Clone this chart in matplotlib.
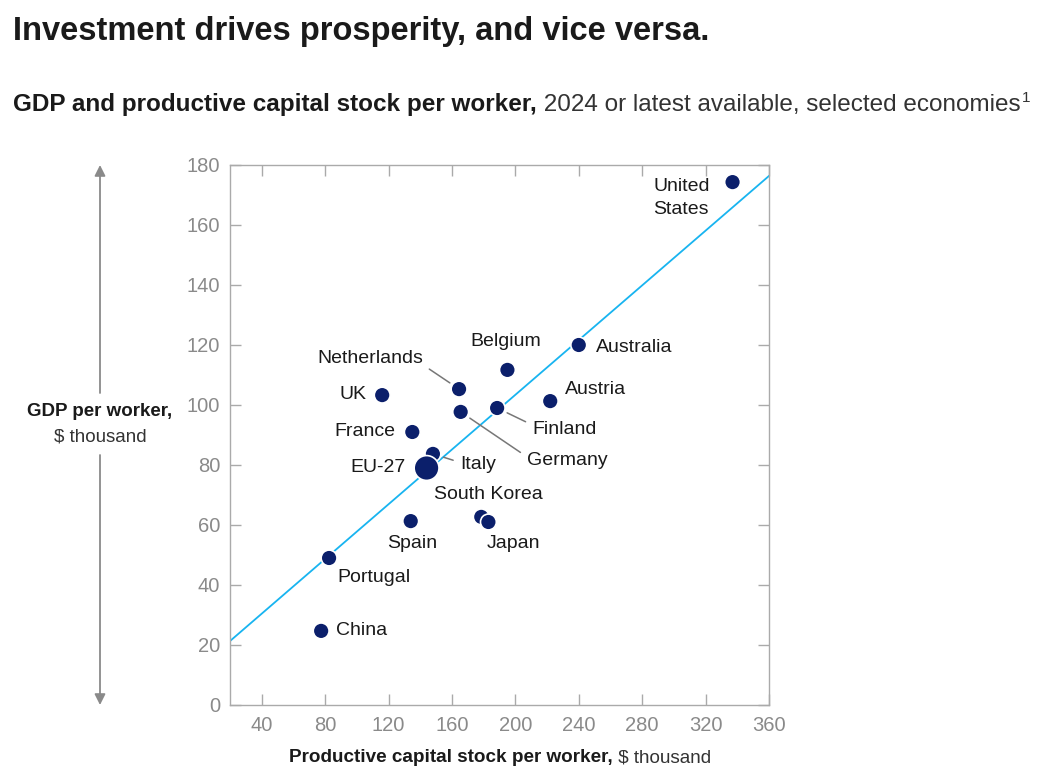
import numpy as np
import matplotlib
matplotlib.use("Agg")
import matplotlib.pyplot as plt

plt.rcParams['font.family'] = ['Liberation Sans', 'DejaVu Sans']

# data, $ thousand per worker
countries = ["United States", "Australia", "Belgium", "Austria", "Netherlands", "UK",
             "Germany", "Finland", "France", "Italy", "EU-27", "South Korea",
             "Japan", "Spain", "Portugal", "China"]
capital = [337, 240, 195, 222, 164.5, 116, 165.5, 188.5, 135, 148, 144, 178.5,
           183, 134, 82.5, 77.5]
gdp = [174.3, 120, 111.7, 101.3, 105.3, 103.3, 97.7, 99, 91, 83.7, 79, 62.7,
       61, 61.3, 49, 24.7]
# trend line
trend_slope = 0.456
trend_intercept = 12.2

x_ticks = [40, 80, 120, 160, 200, 240, 280, 320, 360]
y_ticks = [0, 20, 40, 60, 80, 100, 120, 140, 160, 180]

# label placement: offset in pixels, alignment, leader line relpos or None
label_pos = {
    "United States": ((-23, -16), 'right', None),
    "Australia": ((17, -3), 'left', None),
    "Belgium": ((-2, 28), 'center', None),
    "Austria": ((15, 12), 'left', None),
    "Netherlands": ((-36, 31), 'right', (1.0, 0.1)),
    "UK": ((-16, 1), 'right', None),
    "Germany": ((66, -49), 'left', (0.0, 0.75)),
    "Finland": ((35, -22), 'left', (0.0, 0.8)),
    "France": ((-17, 1), 'right', None),
    "Italy": ((27, -11), 'left', (0.0, 0.65)),
    "EU-27": ((-21, 0), 'right', None),
    "South Korea": ((7, 22), 'center', None),
    "Japan": ((-2, -22), 'left', None),
    "Spain": ((1, -22), 'center', None),
    "Portugal": ((8, -20), 'left', None),
    "China": ((15, 0), 'left', None),
}

dot_color = '#0b1f6b'
line_color = '#18b4f0'
grey = '#8a8a8a'
text_color = '#1a1a1a'

fig = plt.figure(figsize=(10.64, 7.80), dpi=100)
ax = fig.add_axes([230/1064, 1-705/780, (769-230)/1064, (705-165)/780])

xs = np.array([20, 360])
ax.plot(xs, trend_intercept + trend_slope*xs, color=line_color, lw=1.3, zorder=2)

sizes = [320 if c == "EU-27" else 130 for c in countries]
ax.scatter(capital, gdp, s=sizes, color=dot_color, edgecolors='white', linewidths=1.2, zorder=3)

for c, xv, yv in zip(countries, capital, gdp):
    off, ha, rel = label_pos[c]
    txt = "United\nStates" if c == "United States" else c
    kw = {}
    if rel is not None:
        kw['arrowprops'] = dict(arrowstyle='-', color='#777777', lw=1.1,
                                shrinkA=3, shrinkB=8, relpos=rel)
    ax.annotate(txt, (xv, yv), xytext=off, textcoords='offset pixels',
                ha=ha, va='center', fontsize=14, color=text_color,
                multialignment='center', linespacing=1.45, zorder=4, **kw)

ax.set_xlim(20, 360)
ax.set_ylim(0, 180)
ax.set_xticks(x_ticks)
ax.set_yticks(y_ticks)
ax.tick_params(axis='both', direction='in', length=8, width=1, color='#aaaaaa',
               labelcolor=grey, labelsize=14.5, top=True, right=True)
ax.tick_params(axis='x', pad=8)
ax.tick_params(axis='y', pad=7)
for s in ax.spines.values():
    s.set_color('#aaaaaa')
    s.set_linewidth(1)

# composite texts: bold part followed by regular part
def two_part(x, y, bold, regular, size, ha='left'):
    renderer = fig.canvas.get_renderer()
    t1 = fig.text(x, y, bold, fontsize=size, fontweight='bold', color=text_color, va='baseline')
    w1 = t1.get_window_extent(renderer).width / fig.bbox.width
    t2 = fig.text(x + w1, y, regular, fontsize=size, color='#333333', va='baseline')
    w2 = t2.get_window_extent(renderer).width / fig.bbox.width
    if ha == 'center':
        shift = (w1 + w2) / 2
        t1.set_x(x - shift)
        t2.set_x(x - shift + w1)
    return t2

fig.text(13/1064, 1-40/780, "Investment drives prosperity, and vice versa.",
         fontsize=23.5, fontweight='bold', color=text_color, va='baseline')

t = two_part(13/1064, 1-111/780, "GDP and productive capital stock per worker,",
             " 2024 or latest available, selected economies", 17.5)
renderer = fig.canvas.get_renderer()
bb = t.get_window_extent(renderer)
fig.text(bb.x1/1064 + 0.001, 1-102/780, "1", fontsize=11, color='#333333', va='baseline')

two_part(500/1064, 1-762/780, "Productive capital stock per worker,", " \\$ thousand", 13.6, ha='center')

fig.text(100/1064, 1-412/780, "GDP per worker,", fontsize=13.5, fontweight='bold',
         color=text_color, ha='center', va='center')
fig.text(100/1064, 1-437/780, "\\$ thousand", fontsize=13.5, color='#333333',
         ha='center', va='center')

# vertical arrows beside the y label
arrow_kw = dict(arrowstyle='-|>', color=grey, lw=1.3, mutation_scale=16, shrinkA=0, shrinkB=0)
ax.annotate("", xy=(100/1064, 1-165/780), xytext=(100/1064, 1-393/780),
            xycoords='figure fraction', textcoords='figure fraction', arrowprops=arrow_kw)
ax.annotate("", xy=(100/1064, 1-705/780), xytext=(100/1064, 1-455/780),
            xycoords='figure fraction', textcoords='figure fraction', arrowprops=arrow_kw)

fig.savefig("out.png", dpi=100)
